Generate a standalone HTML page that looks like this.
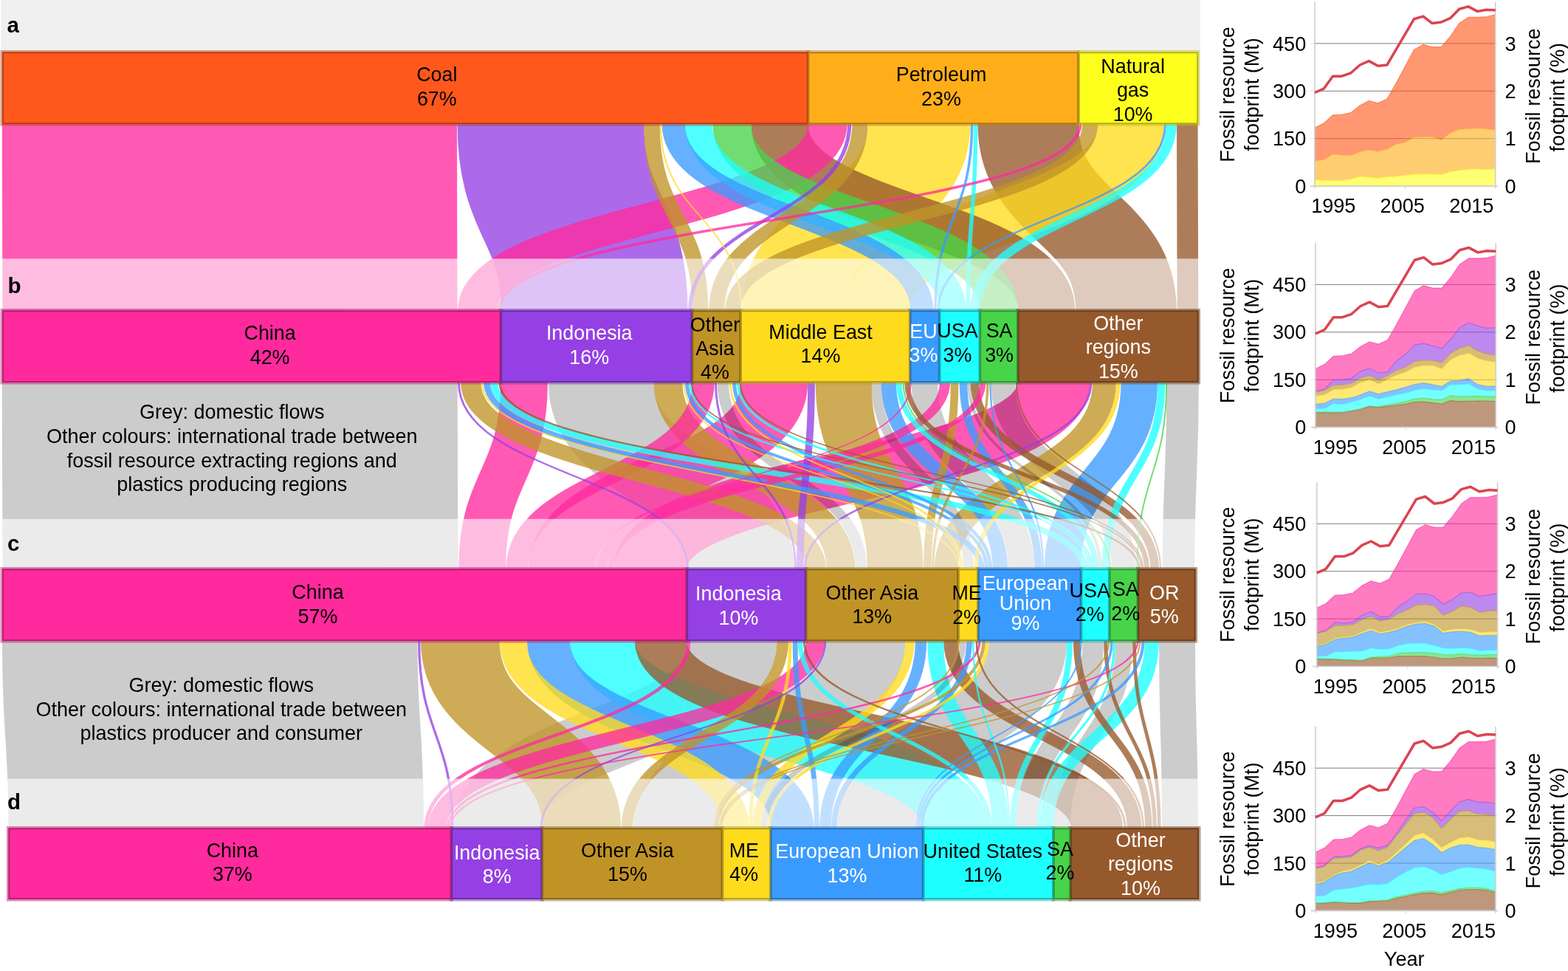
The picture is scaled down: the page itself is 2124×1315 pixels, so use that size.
<!DOCTYPE html>
<html lang="en"><head><meta charset="utf-8"><title>Fossil resource footprint of plastics: Sankey diagram</title>
<style>html,body{margin:0;padding:0;background:#fff}body{width:2124px;height:1315px;overflow:hidden}svg{display:block}text{font-family:"Liberation Sans",sans-serif}</style></head><body>
<svg width="2124" height="1315" viewBox="0 0 2124 1315" font-family="Liberation Sans, sans-serif" font-size="26.9" role="img" aria-label="Sankey diagram of the fossil resource footprint of plastics">
<rect width="2124" height="1315" fill="#fff"/>
<g id="flows-ab" fill="none" stroke-opacity="0.78" transform="scale(1.3,1)">
<path d="M239.12,167.5 C239.12,294.2 239.6,294.2 239.6,421" stroke="#ff2a9d" stroke-width="473.97"/>
<path d="M573.77,167.5 C573.77,294.2 619.29,294.2 619.29,421" stroke="#9540e4" stroke-width="194.55"/>
<path d="M957.69,167.5 C957.69,294.2 826.17,294.2 826.17,421" stroke="#ffdb1e" stroke-width="106.72"/>
<path d="M1071.27,167.5 C1071.27,294.2 1173.47,294.2 1173.47,421" stroke="#96592c" stroke-width="105.04"/>
<path d="M1178.65,167.5 C1178.65,294.2 913.75,294.2 913.75,421" stroke="#ffdb1e" stroke-width="69.28"/>
<path d="M812.23,167.5 C812.23,294.2 1090.56,294.2 1090.56,421" stroke="#96592c" stroke-width="59.43"/>
<path d="M862.27,167.5 C862.27,294.2 497.46,294.2 497.46,421" stroke="#ff2a9d" stroke-width="40.88"/>
<path d="M762.46,167.5 C762.46,294.2 1040.77,294.2 1040.77,421" stroke="#48d44a" stroke-width="39.92"/>
<path d="M727.88,167.5 C727.88,294.2 992.79,294.2 992.79,421" stroke="#1effff" stroke-width="28.21"/>
<path d="M701.73,167.5 C701.73,294.2 960.65,294.2 960.65,421" stroke="#3a9bff" stroke-width="23.95"/>
<path d="M1237.12,167.5 C1237.12,294.2 1237.61,294.2 1237.61,421" stroke="#96592c" stroke-width="22"/>
<path d="M679.12,167.5 C679.12,294.2 729.75,294.2 729.75,421" stroke="#c09326" stroke-width="16.59"/>
<path d="M896.08,167.5 C896.08,294.2 746.74,294.2 746.74,421" stroke="#c09326" stroke-width="16.2"/>
<path d="M1135.96,167.5 C1135.96,294.2 763.41,294.2 763.41,421" stroke="#c09326" stroke-width="15.96"/>
<path d="M1220.77,167.5 C1220.77,294.2 1015.85,294.2 1015.85,421" stroke="#1effff" stroke-width="10.53"/>
<path d="M1016.54,167.5 C1016.54,294.2 1008.64,294.2 1008.64,421" stroke="#1effff" stroke-width="4.21"/>
<path d="M885.12,167.5 C885.12,294.2 718.99,294.2 718.99,421" stroke="#9540e4" stroke-width="4.08"/>
<path d="M1125.58,167.5 C1125.58,294.2 519.91,294.2 519.91,421" stroke="#ff2a9d" stroke-width="3.46"/>
<path d="M1012.77,167.5 C1012.77,294.2 974.64,294.2 974.64,421" stroke="#3a9bff" stroke-width="2.67"/>
<path d="M1214.23,167.5 C1214.23,294.2 977.6,294.2 977.6,421" stroke="#3a9bff" stroke-width="2.36"/>
<path d="M688.23,167.5 C688.23,294.2 772.38,294.2 772.38,421" stroke="#ffdb1e" stroke-width="1.54"/>
</g>
<g id="flows-bc" fill="none" stroke-opacity="0.78" transform="scale(1.4,1)">
<path d="M222.25,517.5 C222.25,644.2 222.87,644.2 222.87,771" stroke="#000" stroke-opacity="0.2" stroke-width="440.74"/>
<path d="M581.64,517.5 C581.64,644.2 717.6,644.2 717.6,771" stroke="#000" stroke-opacity="0.2" stroke-width="102.02"/>
<path d="M1019.86,517.5 C1019.86,644.2 629.18,644.2 629.18,771" stroke="#ff2a9d" stroke-width="70.37"/>
<path d="M749.18,517.5 C749.18,644.2 543.65,644.2 543.65,771" stroke="#ff2a9d" stroke-width="64.86"/>
<path d="M816.11,517.5 C816.11,644.2 866.2,644.2 866.2,771" stroke="#c09326" stroke-width="54.06"/>
<path d="M507.18,517.5 C507.18,644.2 466.51,644.2 466.51,771" stroke="#ff2a9d" stroke-width="45.55"/>
<path d="M1102.29,517.5 C1102.29,644.2 1028.19,644.2 1028.19,771" stroke="#3a9bff" stroke-width="35.38"/>
<path d="M1144.39,517.5 C1144.39,644.2 1140.27,644.2 1140.27,771" stroke="#000" stroke-opacity="0.2" stroke-width="31.03"/>
<path d="M646.43,517.5 C646.43,644.2 813.58,644.2 813.58,771" stroke="#c09326" stroke-width="27.71"/>
<path d="M894.57,517.5 C894.57,644.2 987.9,644.2 987.9,771" stroke="#000" stroke-opacity="0.2" stroke-width="25.31"/>
<path d="M970.57,517.5 C970.57,644.2 1087.36,644.2 1087.36,771" stroke="#000" stroke-opacity="0.2" stroke-width="23.71"/>
<path d="M1068.54,517.5 C1068.54,644.2 915.6,644.2 915.6,771" stroke="#c09326" stroke-width="22.9"/>
<path d="M680.57,517.5 C680.57,644.2 500.25,644.2 500.25,771" stroke="#ff2a9d" stroke-width="21.45"/>
<path d="M455.46,517.5 C455.46,644.2 789.67,644.2 789.67,771" stroke="#c09326" stroke-width="19.46"/>
<path d="M859.86,517.5 C859.86,644.2 967.69,644.2 967.69,771" stroke="#3a9bff" stroke-width="14.52"/>
<path d="M699.5,517.5 C699.5,644.2 833.27,644.2 833.27,771" stroke="#000" stroke-opacity="0.2" stroke-width="11.06"/>
<path d="M914.29,517.5 C914.29,644.2 582.74,644.2 582.74,771" stroke="#ff2a9d" stroke-width="10.01"/>
<path d="M847.82,517.5 C847.82,644.2 937.04,644.2 937.04,771" stroke="#000" stroke-opacity="0.2" stroke-width="9.74"/>
<path d="M943.18,517.5 C943.18,644.2 1117.22,644.2 1117.22,771" stroke="#96592c" stroke-width="8.3"/>
<path d="M932.14,517.5 C932.14,644.2 1004.63,644.2 1004.63,771" stroke="#3a9bff" stroke-width="7.62"/>
<path d="M923.64,517.5 C923.64,644.2 897.4,644.2 897.4,771" stroke="#c09326" stroke-width="7.61"/>
<path d="M1123.68,517.5 C1123.68,644.2 1069.77,644.2 1069.77,771" stroke="#1effff" stroke-width="7.41"/>
<path d="M477.86,517.5 C477.86,644.2 1049.62,644.2 1049.62,771" stroke="#1effff" stroke-width="7.34"/>
<path d="M785.04,517.5 C785.04,644.2 774.17,644.2 774.17,771" stroke="#9540e4" stroke-width="6.93"/>
<path d="M470.96,517.5 C470.96,644.2 949.51,644.2 949.51,771" stroke="#3a9bff" stroke-width="6.26"/>
<path d="M950.89,517.5 C950.89,644.2 590.85,644.2 590.85,771" stroke="#ff2a9d" stroke-width="5.79"/>
<path d="M869.86,517.5 C869.86,644.2 1060.49,644.2 1060.49,771" stroke="#1effff" stroke-width="5.4"/>
<path d="M877.79,517.5 C877.79,644.2 1109.61,644.2 1109.61,771" stroke="#96592c" stroke-width="5.08"/>
<path d="M1082,517.5 C1082,644.2 944.14,644.2 944.14,771" stroke="#ffdb1e" stroke-width="4.18"/>
<path d="M664.64,517.5 C664.64,644.2 954.63,644.2 954.63,771" stroke="#3a9bff" stroke-width="3.6"/>
<path d="M710.36,517.5 C710.36,644.2 958.41,644.2 958.41,771" stroke="#3a9bff" stroke-width="3.6"/>
<path d="M937.57,517.5 C937.57,644.2 1064.64,644.2 1064.64,771" stroke="#000" stroke-opacity="0.2" stroke-width="3.18"/>
<path d="M713.93,517.5 C713.93,644.2 1056.53,644.2 1056.53,771" stroke="#1effff" stroke-width="2.77"/>
<path d="M955.57,517.5 C955.57,644.2 902.66,644.2 902.66,771" stroke="#c09326" stroke-width="2.44"/>
<path d="M483.39,517.5 C483.39,644.2 1102.37,644.2 1102.37,771" stroke="#96592c" stroke-width="2.17"/>
<path d="M1055.64,517.5 C1055.64,644.2 778.71,644.2 778.71,771" stroke="#9540e4" stroke-width="2.14"/>
<path d="M667.5,517.5 C667.5,644.2 1054.18,644.2 1054.18,771" stroke="#1effff" stroke-width="2.08"/>
<path d="M692.54,517.5 C692.54,644.2 769.66,644.2 769.66,771" stroke="#9540e4" stroke-width="2.07"/>
<path d="M443.82,517.5 C443.82,644.2 665.54,644.2 665.54,771" stroke="#9540e4" stroke-width="2.07"/>
<path d="M706.64,517.5 C706.64,644.2 931.11,644.2 931.11,771" stroke="#ffdb1e" stroke-width="1.88"/>
<path d="M466.21,517.5 C466.21,644.2 928.05,644.2 928.05,771" stroke="#ffdb1e" stroke-width="1.59"/>
<path d="M958.14,517.5 C958.14,644.2 1009.43,644.2 1009.43,771" stroke="#3a9bff" stroke-width="1.58"/>
<path d="M874,517.5 C874,644.2 1074.25,644.2 1074.25,771" stroke="#48d44a" stroke-width="1.45"/>
<path d="M881.25,517.5 C881.25,644.2 576.93,644.2 576.93,771" stroke="#ff2a9d" stroke-width="1.43"/>
<path d="M983.43,517.5 C983.43,644.2 1122.81,644.2 1122.81,771" stroke="#96592c" stroke-width="1.43"/>
<path d="M661.57,517.5 C661.57,644.2 929.51,644.2 929.51,771" stroke="#ffdb1e" stroke-width="1.43"/>
<path d="M1128.64,517.5 C1128.64,644.2 1100.26,644.2 1100.26,771" stroke="#48d44a" stroke-width="1.43"/>
<path d="M669.21,517.5 C669.21,644.2 1104.53,644.2 1104.53,771" stroke="#96592c" stroke-width="1.43"/>
<path d="M716.07,517.5 C716.07,644.2 1105.93,644.2 1105.93,771" stroke="#96592c" stroke-width="1.43"/>
</g>
<g id="flows-cd" fill="none" stroke-opacity="0.78" transform="scale(1.4,1)">
<path d="M203,867.5 C203,994.8 209.23,994.8 209.23,1122" stroke="#000" stroke-opacity="0.2" stroke-width="401.85"/>
<path d="M710.07,867.5 C710.07,994.8 480.79,994.8 480.79,1122" stroke="#000" stroke-opacity="0.2" stroke-width="83.43"/>
<path d="M837.61,867.5 C837.61,994.8 651.31,994.8 651.31,1122" stroke="#000" stroke-opacity="0.2" stroke-width="76.98"/>
<path d="M445.21,867.5 C445.21,994.8 562.8,994.8 562.8,1122" stroke="#c09326" stroke-width="76.19"/>
<path d="M994.64,867.5 C994.64,994.8 847.82,994.8 847.82,1122" stroke="#000" stroke-opacity="0.2" stroke-width="75.15"/>
<path d="M583.11,867.5 C583.11,994.8 924.33,994.8 924.33,1122" stroke="#1effff" stroke-width="62.65"/>
<path d="M639.18,867.5 C639.18,994.8 1061.45,994.8 1061.45,1122" stroke="#96592c" stroke-width="49.88"/>
<path d="M530.71,867.5 C530.71,994.8 766.63,994.8 766.63,1122" stroke="#3a9bff" stroke-width="41.67"/>
<path d="M1138.89,867.5 C1138.89,994.8 1141.81,994.8 1141.81,1122" stroke="#000" stroke-opacity="0.2" stroke-width="34.98"/>
<path d="M496.57,867.5 C496.57,994.8 711.73,994.8 711.73,1122" stroke="#ffdb1e" stroke-width="26.23"/>
<path d="M1057.64,867.5 C1057.64,994.8 993.09,994.8 993.09,1122" stroke="#000" stroke-opacity="0.2" stroke-width="20.34"/>
<path d="M789,867.5 C789,994.8 423.21,994.8 423.21,1122" stroke="#ff2a9d" stroke-width="18.01"/>
<path d="M1087.61,867.5 C1087.61,994.8 1027.39,994.8 1027.39,1122" stroke="#000" stroke-opacity="0.2" stroke-width="16.39"/>
<path d="M905.21,867.5 C905.21,994.8 967.81,994.8 967.81,1122" stroke="#1effff" stroke-width="15.68"/>
<path d="M919.96,867.5 C919.96,994.8 1097.57,994.8 1097.57,1122" stroke="#96592c" stroke-width="13.95"/>
<path d="M1114.54,867.5 C1114.54,994.8 1012.33,994.8 1012.33,1122" stroke="#1effff" stroke-width="13.77"/>
<path d="M757.32,867.5 C757.32,994.8 606.85,994.8 606.85,1122" stroke="#c09326" stroke-width="11.12"/>
<path d="M891.07,867.5 C891.07,994.8 798.48,994.8 798.48,1122" stroke="#3a9bff" stroke-width="11.06"/>
<path d="M880.39,867.5 C880.39,994.8 732.06,994.8 732.06,1122" stroke="#ffdb1e" stroke-width="8.72"/>
<path d="M1041.89,867.5 C1041.89,994.8 1111.31,994.8 1111.31,1122" stroke="#96592c" stroke-width="6.79"/>
<path d="M931.82,867.5 C931.82,994.8 739.2,994.8 739.2,1122" stroke="#000" stroke-opacity="0.2" stroke-width="5.93"/>
<path d="M1034.93,867.5 C1034.93,994.8 980.17,994.8 980.17,1122" stroke="#1effff" stroke-width="5.79"/>
<path d="M937.89,867.5 C937.89,994.8 807.04,994.8 807.04,1122" stroke="#3a9bff" stroke-width="5.53"/>
<path d="M769.36,867.5 C769.36,994.8 790.25,994.8 790.25,1122" stroke="#3a9bff" stroke-width="4.89"/>
<path d="M774.21,867.5 C774.21,994.8 957.68,994.8 957.68,1122" stroke="#1effff" stroke-width="4.8"/>
<path d="M666.43,867.5 C666.43,994.8 412.21,994.8 412.21,1122" stroke="#ff2a9d" stroke-width="3.86"/>
<path d="M1069.75,867.5 C1069.75,994.8 1117.32,994.8 1117.32,1122" stroke="#96592c" stroke-width="3.72"/>
<path d="M955.46,867.5 C955.46,994.8 743.84,994.8 743.84,1122" stroke="#ffdb1e" stroke-width="3.56"/>
<path d="M951.96,867.5 C951.96,994.8 693.6,994.8 693.6,1122" stroke="#c09326" stroke-width="3.37"/>
<path d="M1097.43,867.5 C1097.43,994.8 1121.58,994.8 1121.58,1122" stroke="#96592c" stroke-width="3.36"/>
<path d="M764.57,867.5 C764.57,994.8 726.17,994.8 726.17,1122" stroke="#ffdb1e" stroke-width="3.35"/>
<path d="M1106.07,867.5 C1106.07,994.8 891.73,994.8 891.73,1122" stroke="#3a9bff" stroke-width="3.02"/>
<path d="M947.89,867.5 C947.89,994.8 433.52,994.8 433.52,1122" stroke="#ff2a9d" stroke-width="2.5"/>
<path d="M1075.79,867.5 C1075.79,994.8 888.78,994.8 888.78,1122" stroke="#3a9bff" stroke-width="2.44"/>
<path d="M1078.21,867.5 C1078.21,994.8 1004.34,994.8 1004.34,1122" stroke="#1effff" stroke-width="2.4"/>
<path d="M405.46,867.5 C405.46,994.8 437.89,994.8 437.89,1122" stroke="#9540e4" stroke-width="2.36"/>
<path d="M778.21,867.5 C778.21,994.8 1088.69,994.8 1088.69,1122" stroke="#96592c" stroke-width="2.19"/>
<path d="M798.54,867.5 C798.54,994.8 523.46,994.8 523.46,1122" stroke="#9540e4" stroke-width="1.93"/>
<path d="M1100.93,867.5 C1100.93,994.8 435.76,994.8 435.76,1122" stroke="#ff2a9d" stroke-width="1.86"/>
<path d="M944.82,867.5 C944.82,994.8 1106.27,994.8 1106.27,1122" stroke="#96592c" stroke-width="1.83"/>
<path d="M941.54,867.5 C941.54,994.8 976.43,994.8 976.43,1122" stroke="#1effff" stroke-width="1.77"/>
<path d="M1073.21,867.5 C1073.21,994.8 696.3,994.8 696.3,1122" stroke="#c09326" stroke-width="1.58"/>
<path d="M1046.25,867.5 C1046.25,994.8 886.58,994.8 886.58,1122" stroke="#3a9bff" stroke-width="1.51"/>
<path d="M927.75,867.5 C927.75,994.8 690.94,994.8 690.94,1122" stroke="#c09326" stroke-width="1.51"/>
<path d="M1103.18,867.5 C1103.18,994.8 698.06,994.8 698.06,1122" stroke="#c09326" stroke-width="1.51"/>
</g>
<rect x="1.5" y="0" width="1624.5" height="68.5" fill="#f0f0f0"/>
<rect x="0" y="350.3" width="1627" height="70.2" fill="#fff" fill-opacity="0.6"/>
<rect x="0" y="702.8" width="1627" height="67.7" fill="#fff" fill-opacity="0.6"/>
<rect x="0" y="1054.7" width="1627" height="66.8" fill="#fff" fill-opacity="0.6"/>
<g id="bar-a">
<rect x="3" y="70.5" width="1091.6" height="97.5" fill="#ff581c" stroke="#b73f14" stroke-opacity="0.5" stroke-width="5"/>
<rect x="1094.6" y="70.5" width="366.4" height="97.5" fill="#ffae1a" stroke="#b77d12" stroke-opacity="0.5" stroke-width="5"/>
<rect x="1461" y="70.5" width="162" height="97.5" fill="#ffff1e" stroke="#b7b715" stroke-opacity="0.5" stroke-width="5"/>
<rect x="3.9" y="71.4" width="1089.8" height="95.7" fill="#ff581c" stroke="#b23d13" stroke-width="1.8"/>
<rect x="1095.5" y="71.4" width="364.6" height="95.7" fill="#ffae1a" stroke="#b27912" stroke-width="1.8"/>
<rect x="1461.9" y="71.4" width="160.2" height="95.7" fill="#ffff1e" stroke="#b2b215" stroke-width="1.8"/>
</g>
<g id="bar-b">
<rect x="3" y="420.5" width="675.3" height="97.5" fill="#ff2a9d" stroke="#b71e71" stroke-opacity="0.5" stroke-width="5"/>
<rect x="678.3" y="420.5" width="259.2" height="97.5" fill="#9540e4" stroke="#6b2ea4" stroke-opacity="0.5" stroke-width="5"/>
<rect x="937.5" y="420.5" width="65.7" height="97.5" fill="#c09326" stroke="#8a691b" stroke-opacity="0.5" stroke-width="5"/>
<rect x="1003.2" y="420.5" width="229.5" height="97.5" fill="#ffdb1e" stroke="#b79d15" stroke-opacity="0.5" stroke-width="5"/>
<rect x="1232.7" y="420.5" width="40" height="97.5" fill="#3a9bff" stroke="#296fb7" stroke-opacity="0.5" stroke-width="5"/>
<rect x="1272.7" y="420.5" width="54.6" height="97.5" fill="#1effff" stroke="#15b7b7" stroke-opacity="0.5" stroke-width="5"/>
<rect x="1327.3" y="420.5" width="51.4" height="97.5" fill="#48d44a" stroke="#339835" stroke-opacity="0.5" stroke-width="5"/>
<rect x="1378.7" y="420.5" width="244.8" height="97.5" fill="#96592c" stroke="#6c401f" stroke-opacity="0.5" stroke-width="5"/>
<rect x="3.9" y="421.4" width="673.5" height="95.7" fill="#ff2a9d" stroke="#b21d6d" stroke-width="1.8"/>
<rect x="679.2" y="421.4" width="257.4" height="95.7" fill="#9540e4" stroke="#682c9f" stroke-width="1.8"/>
<rect x="938.4" y="421.4" width="63.9" height="95.7" fill="#c09326" stroke="#86661a" stroke-width="1.8"/>
<rect x="1004.1" y="421.4" width="227.7" height="95.7" fill="#ffdb1e" stroke="#b29915" stroke-width="1.8"/>
<rect x="1233.6" y="421.4" width="38.2" height="95.7" fill="#3a9bff" stroke="#286cb2" stroke-width="1.8"/>
<rect x="1273.6" y="421.4" width="52.8" height="95.7" fill="#1effff" stroke="#15b2b2" stroke-width="1.8"/>
<rect x="1328.2" y="421.4" width="49.6" height="95.7" fill="#48d44a" stroke="#329433" stroke-width="1.8"/>
<rect x="1379.6" y="421.4" width="243" height="95.7" fill="#96592c" stroke="#693e1e" stroke-width="1.8"/>
</g>
<g id="bar-c">
<rect x="3" y="770.5" width="927.3" height="97.5" fill="#ff2a9d" stroke="#b71e71" stroke-opacity="0.5" stroke-width="5"/>
<rect x="930.3" y="770.5" width="161.4" height="97.5" fill="#9540e4" stroke="#6b2ea4" stroke-opacity="0.5" stroke-width="5"/>
<rect x="1091.7" y="770.5" width="206.4" height="97.5" fill="#c09326" stroke="#8a691b" stroke-opacity="0.5" stroke-width="5"/>
<rect x="1298.1" y="770.5" width="26.7" height="97.5" fill="#ffdb1e" stroke="#b79d15" stroke-opacity="0.5" stroke-width="5"/>
<rect x="1324.8" y="770.5" width="139.7" height="97.5" fill="#3a9bff" stroke="#296fb7" stroke-opacity="0.5" stroke-width="5"/>
<rect x="1464.5" y="770.5" width="38.2" height="97.5" fill="#1effff" stroke="#15b7b7" stroke-opacity="0.5" stroke-width="5"/>
<rect x="1502.7" y="770.5" width="38.6" height="97.5" fill="#48d44a" stroke="#339835" stroke-opacity="0.5" stroke-width="5"/>
<rect x="1541.3" y="770.5" width="78.2" height="97.5" fill="#96592c" stroke="#6c401f" stroke-opacity="0.5" stroke-width="5"/>
<rect x="3.9" y="771.4" width="925.5" height="95.7" fill="#ff2a9d" stroke="#b21d6d" stroke-width="1.8"/>
<rect x="931.2" y="771.4" width="159.6" height="95.7" fill="#9540e4" stroke="#682c9f" stroke-width="1.8"/>
<rect x="1092.6" y="771.4" width="204.6" height="95.7" fill="#c09326" stroke="#86661a" stroke-width="1.8"/>
<rect x="1299" y="771.4" width="24.9" height="95.7" fill="#ffdb1e" stroke="#b29915" stroke-width="1.8"/>
<rect x="1325.7" y="771.4" width="137.9" height="95.7" fill="#3a9bff" stroke="#286cb2" stroke-width="1.8"/>
<rect x="1465.4" y="771.4" width="36.4" height="95.7" fill="#1effff" stroke="#15b2b2" stroke-width="1.8"/>
<rect x="1503.6" y="771.4" width="36.8" height="95.7" fill="#48d44a" stroke="#329433" stroke-width="1.8"/>
<rect x="1542.2" y="771.4" width="76.4" height="95.7" fill="#96592c" stroke="#693e1e" stroke-width="1.8"/>
</g>
<g id="bar-d">
<rect x="11.5" y="1121.5" width="599.9" height="96.5" fill="#ff2a9d" stroke="#b71e71" stroke-opacity="0.5" stroke-width="5"/>
<rect x="611.4" y="1121.5" width="122.8" height="96.5" fill="#9540e4" stroke="#6b2ea4" stroke-opacity="0.5" stroke-width="5"/>
<rect x="734.2" y="1121.5" width="244.3" height="96.5" fill="#c09326" stroke="#8a691b" stroke-opacity="0.5" stroke-width="5"/>
<rect x="978.5" y="1121.5" width="65.3" height="96.5" fill="#ffdb1e" stroke="#b79d15" stroke-opacity="0.5" stroke-width="5"/>
<rect x="1043.8" y="1121.5" width="206.9" height="96.5" fill="#3a9bff" stroke="#296fb7" stroke-opacity="0.5" stroke-width="5"/>
<rect x="1250.7" y="1121.5" width="176.1" height="96.5" fill="#1effff" stroke="#15b7b7" stroke-opacity="0.5" stroke-width="5"/>
<rect x="1426.8" y="1121.5" width="23.1" height="96.5" fill="#48d44a" stroke="#339835" stroke-opacity="0.5" stroke-width="5"/>
<rect x="1449.9" y="1121.5" width="174.1" height="96.5" fill="#96592c" stroke="#6c401f" stroke-opacity="0.5" stroke-width="5"/>
<rect x="12.4" y="1122.4" width="598.1" height="94.7" fill="#ff2a9d" stroke="#b21d6d" stroke-width="1.8"/>
<rect x="612.3" y="1122.4" width="121" height="94.7" fill="#9540e4" stroke="#682c9f" stroke-width="1.8"/>
<rect x="735.1" y="1122.4" width="242.5" height="94.7" fill="#c09326" stroke="#86661a" stroke-width="1.8"/>
<rect x="979.4" y="1122.4" width="63.5" height="94.7" fill="#ffdb1e" stroke="#b29915" stroke-width="1.8"/>
<rect x="1044.7" y="1122.4" width="205.1" height="94.7" fill="#3a9bff" stroke="#286cb2" stroke-width="1.8"/>
<rect x="1251.6" y="1122.4" width="174.3" height="94.7" fill="#1effff" stroke="#15b2b2" stroke-width="1.8"/>
<rect x="1427.7" y="1122.4" width="21.3" height="94.7" fill="#48d44a" stroke="#329433" stroke-width="1.8"/>
<rect x="1450.8" y="1122.4" width="172.3" height="94.7" fill="#96592c" stroke="#693e1e" stroke-width="1.8"/>
</g>
<g id="labels" text-anchor="middle">
<text transform="translate(591.8,110.1) scale(1,1.04)" fill="#000">Coal</text>
<text transform="translate(591.8,142.8) scale(1,1.04)" fill="#000">67%</text>
<text transform="translate(1275,110.2) scale(1,1.04)" fill="#000">Petroleum</text>
<text transform="translate(1275,142.7) scale(1,1.04)" fill="#000">23%</text>
<text transform="translate(1534.6,99) scale(1,1.04)" fill="#000">Natural</text>
<text transform="translate(1534.6,131) scale(1,1.04)" fill="#000">gas</text>
<text transform="translate(1534.6,163.5) scale(1,1.04)" fill="#000">10%</text>
<text transform="translate(365.6,459.9) scale(1,1.04)" fill="#000">China</text>
<text transform="translate(365.6,492.8) scale(1,1.04)" fill="#000">42%</text>
<text transform="translate(798.2,460.2) scale(1,1.04)" fill="#fff">Indonesia</text>
<text transform="translate(798.2,492.8) scale(1,1.04)" fill="#fff">16%</text>
<text transform="translate(968.5,448.6) scale(1,1.04)" fill="#000">Other</text>
<text transform="translate(968.5,481) scale(1,1.04)" fill="#000">Asia</text>
<text transform="translate(968.5,512.9) scale(1,1.04)" fill="#000">4%</text>
<text transform="translate(1111.5,458.8) scale(1,1.04)" fill="#000">Middle East</text>
<text transform="translate(1111.5,491) scale(1,1.04)" fill="#000">14%</text>
<text transform="translate(1251,457.6) scale(1,1.04)" fill="#fff">EU</text>
<text transform="translate(1251,490.1) scale(1,1.04)" fill="#fff">3%</text>
<text transform="translate(1297,457.2) scale(1,1.04)" fill="#000">USA</text>
<text transform="translate(1297,489.7) scale(1,1.04)" fill="#000">3%</text>
<text transform="translate(1353.6,457.2) scale(1,1.04)" fill="#000">SA</text>
<text transform="translate(1353.6,489.7) scale(1,1.04)" fill="#000">3%</text>
<text transform="translate(1514.8,447.3) scale(1,1.04)" fill="#fff">Other</text>
<text transform="translate(1514.8,479.3) scale(1,1.04)" fill="#fff">regions</text>
<text transform="translate(1514.8,511.8) scale(1,1.04)" fill="#fff">15%</text>
<text transform="translate(430.5,810.5) scale(1,1.04)" fill="#000">China</text>
<text transform="translate(430.5,843.5) scale(1,1.04)" fill="#000">57%</text>
<text transform="translate(1000.4,813) scale(1,1.04)" fill="#fff">Indonesia</text>
<text transform="translate(1000.4,845.6) scale(1,1.04)" fill="#fff">10%</text>
<text transform="translate(1181.3,811.5) scale(1,1.04)" fill="#000">Other Asia</text>
<text transform="translate(1181.3,844) scale(1,1.04)" fill="#000">13%</text>
<text transform="translate(1309.6,812) scale(1,1.04)" fill="#000">ME</text>
<text transform="translate(1309.6,844.9) scale(1,1.04)" fill="#000">2%</text>
<text transform="translate(1389,798.6) scale(1,1.04)" fill="#fff">European</text>
<text transform="translate(1389,825.5) scale(1,1.04)" fill="#fff">Union</text>
<text transform="translate(1389,852.7) scale(1,1.04)" fill="#fff">9%</text>
<text transform="translate(1476.2,809.3) scale(1,1.04)" fill="#000">USA</text>
<text transform="translate(1476.2,841.4) scale(1,1.04)" fill="#000">2%</text>
<text transform="translate(1524.8,807.1) scale(1,1.04)" fill="#000">SA</text>
<text transform="translate(1524.8,839.5) scale(1,1.04)" fill="#000">2%</text>
<text transform="translate(1577.2,811.8) scale(1,1.04)" fill="#fff">OR</text>
<text transform="translate(1577.2,844.2) scale(1,1.04)" fill="#fff">5%</text>
<text transform="translate(314.8,1160.9) scale(1,1.04)" fill="#000">China</text>
<text transform="translate(314.8,1193.4) scale(1,1.04)" fill="#000">37%</text>
<text transform="translate(673.2,1163.7) scale(1,1.04)" fill="#fff">Indonesia</text>
<text transform="translate(673.2,1196.2) scale(1,1.04)" fill="#fff">8%</text>
<text transform="translate(849.9,1161.3) scale(1,1.04)" fill="#000">Other Asia</text>
<text transform="translate(849.9,1193.4) scale(1,1.04)" fill="#000">15%</text>
<text transform="translate(1007.8,1160.9) scale(1,1.04)" fill="#000">ME</text>
<text transform="translate(1007.8,1193.4) scale(1,1.04)" fill="#000">4%</text>
<text transform="translate(1147.4,1162) scale(1,1.04)" fill="#fff">European Union</text>
<text transform="translate(1147.4,1194.5) scale(1,1.04)" fill="#fff">13%</text>
<text transform="translate(1331.3,1162) scale(1,1.04)" fill="#000">United States</text>
<text transform="translate(1331.3,1194) scale(1,1.04)" fill="#000">11%</text>
<text transform="translate(1436,1158.7) scale(1,1.04)" fill="#000">SA</text>
<text transform="translate(1436,1191.2) scale(1,1.04)" fill="#000">2%</text>
<text transform="translate(1545,1146.5) scale(1,1.04)" fill="#fff">Other</text>
<text transform="translate(1545,1178.5) scale(1,1.04)" fill="#fff">regions</text>
<text transform="translate(1545,1211.6) scale(1,1.04)" fill="#fff">10%</text>
</g>
<g id="notes" text-anchor="middle" font-size="27">
<text transform="translate(314.2,567) scale(1,1.04)">Grey: domestic flows</text>
<text transform="translate(314.2,600.3) scale(1,1.04)">Other colours: international trade between</text>
<text transform="translate(314.2,632.8) scale(1,1.04)">fossil resource extracting regions and</text>
<text transform="translate(314.2,664.6) scale(1,1.04)">plastics producing regions</text>
<text transform="translate(299.8,936.9) scale(1,1.04)">Grey: domestic flows</text>
<text transform="translate(299.8,969.6) scale(1,1.04)">Other colours: international trade between</text>
<text transform="translate(299.8,1002) scale(1,1.04)">plastics producer and consumer</text>
</g>
<g id="panel-letters" font-weight="bold" font-size="29.5">
<text x="9.5" y="44.3">a</text>
<text x="10.5" y="397.1">b</text>
<text x="10" y="746">c</text>
<text x="10" y="1095.8">d</text>
</g>
<g id="chart-1" font-size="27.1">
<line x1="1780.9" y1="187.7" x2="2025.7" y2="187.7" stroke="#7d7d7d" stroke-width="1"/>
<line x1="1774.9" y1="187.7" x2="1780.9" y2="187.7" stroke="#e2e2e2" stroke-width="1"/>
<line x1="2025.7" y1="187.7" x2="2028.7" y2="187.7" stroke="#e2e2e2" stroke-width="1"/>
<line x1="1780.9" y1="123.3" x2="2025.7" y2="123.3" stroke="#7d7d7d" stroke-width="1"/>
<line x1="1774.9" y1="123.3" x2="1780.9" y2="123.3" stroke="#e2e2e2" stroke-width="1"/>
<line x1="2025.7" y1="123.3" x2="2028.7" y2="123.3" stroke="#e2e2e2" stroke-width="1"/>
<line x1="1780.9" y1="58.9" x2="2025.7" y2="58.9" stroke="#7d7d7d" stroke-width="1"/>
<line x1="1774.9" y1="58.9" x2="1780.9" y2="58.9" stroke="#e2e2e2" stroke-width="1"/>
<line x1="2025.7" y1="58.9" x2="2028.7" y2="58.9" stroke="#e2e2e2" stroke-width="1"/>
<path d="M1780.9,243.6 L1793.1,244.4 L1805.4,244.8 L1817.6,244.8 L1829.9,242.8 L1842.1,239.2 L1854.3,240.2 L1866.6,241.8 L1878.8,239.6 L1891.1,239.2 L1903.3,237.7 L1915.5,236.3 L1927.8,235.9 L1940,236.1 L1952.3,236.7 L1964.5,232.9 L1976.7,230.9 L1989,229.4 L2001.2,229 L2013.5,229.8 L2025.7,228.8 L2025.7,252.1 L2013.5,252.1 L2001.2,252.1 L1989,252.1 L1976.7,252.1 L1964.5,252.1 L1952.3,252.1 L1940,252.1 L1927.8,252.1 L1915.5,252.1 L1903.3,252.1 L1891.1,252.1 L1878.8,252.1 L1866.6,252.1 L1854.3,252.1 L1842.1,252.1 L1829.9,252.1 L1817.6,252.1 L1805.4,252.1 L1793.1,252.1 L1780.9,252.1 Z" fill="#ffff1e" fill-opacity="0.62"/>
<path d="M1780.9,217.9 L1793.1,216.5 L1805.4,208.8 L1817.6,210 L1829.9,210.4 L1842.1,205.6 L1854.3,203.1 L1866.6,205.2 L1878.8,202.1 L1891.1,195.3 L1903.3,192.8 L1915.5,185.8 L1927.8,185.5 L1940,185.5 L1952.3,189.4 L1964.5,180.3 L1976.7,175.2 L1989,174.6 L2001.2,173.6 L2013.5,174.6 L2025.7,176 L2025.7,228.8 L2013.5,229.8 L2001.2,229 L1989,229.4 L1976.7,230.9 L1964.5,232.9 L1952.3,236.7 L1940,236.1 L1927.8,235.9 L1915.5,236.3 L1903.3,237.7 L1891.1,239.2 L1878.8,239.6 L1866.6,241.8 L1854.3,240.2 L1842.1,239.2 L1829.9,242.8 L1817.6,244.8 L1805.4,244.8 L1793.1,244.4 L1780.9,243.6 Z" fill="#ffae1a" fill-opacity="0.62"/>
<path d="M1780.9,173 L1793.1,167.1 L1805.4,155.8 L1817.6,155.2 L1829.9,152.6 L1842.1,142.7 L1854.3,136.4 L1866.6,139.6 L1878.8,134 L1891.1,112.7 L1903.3,89.9 L1915.5,67.2 L1927.8,60.3 L1940,63.6 L1952.3,63.6 L1964.5,49.4 L1976.7,31.6 L1989,23.3 L2001.2,23.3 L2013.5,22.7 L2025.7,19.7 L2025.7,176 L2013.5,174.6 L2001.2,173.6 L1989,174.6 L1976.7,175.2 L1964.5,180.3 L1952.3,189.4 L1940,185.5 L1927.8,185.5 L1915.5,185.8 L1903.3,192.8 L1891.1,195.3 L1878.8,202.1 L1866.6,205.2 L1854.3,203.1 L1842.1,205.6 L1829.9,210.4 L1817.6,210 L1805.4,208.8 L1793.1,216.5 L1780.9,217.9 Z" fill="#ff581c" fill-opacity="0.62"/>
<path d="M1780.9,243.6 L1793.1,244.4 L1805.4,244.8 L1817.6,244.8 L1829.9,242.8 L1842.1,239.2 L1854.3,240.2 L1866.6,241.8 L1878.8,239.6 L1891.1,239.2 L1903.3,237.7 L1915.5,236.3 L1927.8,235.9 L1940,236.1 L1952.3,236.7 L1964.5,232.9 L1976.7,230.9 L1989,229.4 L2001.2,229 L2013.5,229.8 L2025.7,228.8" fill="none" stroke="#ffff1e" stroke-opacity="0.55" stroke-width="1.2" stroke-linejoin="round"/>
<path d="M1780.9,217.9 L1793.1,216.5 L1805.4,208.8 L1817.6,210 L1829.9,210.4 L1842.1,205.6 L1854.3,203.1 L1866.6,205.2 L1878.8,202.1 L1891.1,195.3 L1903.3,192.8 L1915.5,185.8 L1927.8,185.5 L1940,185.5 L1952.3,189.4 L1964.5,180.3 L1976.7,175.2 L1989,174.6 L2001.2,173.6 L2013.5,174.6 L2025.7,176" fill="none" stroke="#ffae1a" stroke-opacity="0.55" stroke-width="1.2" stroke-linejoin="round"/>
<path d="M1780.9,173 L1793.1,167.1 L1805.4,155.8 L1817.6,155.2 L1829.9,152.6 L1842.1,142.7 L1854.3,136.4 L1866.6,139.6 L1878.8,134 L1891.1,112.7 L1903.3,89.9 L1915.5,67.2 L1927.8,60.3 L1940,63.6 L1952.3,63.6 L1964.5,49.4 L1976.7,31.6 L1989,23.3 L2001.2,23.3 L2013.5,22.7 L2025.7,19.7" fill="none" stroke="#ff581c" stroke-opacity="0.55" stroke-width="1.2" stroke-linejoin="round"/>
<path d="M1780.9,2.6 V255.1 M2025.7,2.6 V255.1 M1774.9,252.1 H2028.7" fill="none" stroke="#cfcfcf" stroke-width="1.6"/>
<line x1="1903.3" y1="252.1" x2="1903.3" y2="256.1" stroke="#dcdcdc" stroke-width="1.2"/>
<path d="M1780.9,125.5 L1793.1,120.2 L1805.4,103.2 L1817.6,103.2 L1829.9,98.8 L1842.1,88 L1854.3,82.6 L1866.6,89.3 L1878.8,88 L1891.1,67.2 L1903.3,46.4 L1915.5,25.7 L1927.8,22.1 L1940,31.6 L1952.3,30 L1964.5,24.7 L1976.7,12.2 L1989,8.9 L2001.2,15.4 L2013.5,13.2 L2025.7,13.8" fill="none" stroke="#dc4351" stroke-width="3.5" stroke-linejoin="round" stroke-linecap="butt"/>
<text transform="translate(1769.2,261.7) scale(1,1.04)" text-anchor="end">0</text>
<text transform="translate(2038.6,261.7) scale(1,1.04)">0</text>
<text transform="translate(1769.2,197.3) scale(1,1.04)" text-anchor="end">150</text>
<text transform="translate(2038.6,197.3) scale(1,1.04)">1</text>
<text transform="translate(1769.2,132.9) scale(1,1.04)" text-anchor="end">300</text>
<text transform="translate(2038.6,132.9) scale(1,1.04)">2</text>
<text transform="translate(1769.2,68.5) scale(1,1.04)" text-anchor="end">450</text>
<text transform="translate(2038.6,68.5) scale(1,1.04)">3</text>
<text transform="translate(1806.3,288.2) scale(1,1.04)" text-anchor="middle">1995</text>
<text transform="translate(1899.7,288.2) scale(1,1.04)" text-anchor="middle">2005</text>
<text transform="translate(1993.3,288.2) scale(1,1.04)" text-anchor="middle">2015</text>
<text transform="translate(1672.2,127.9) rotate(-90) scale(1,1.04)" text-anchor="middle">Fossil resource</text>
<text transform="translate(1704.6,127.9) rotate(-90) scale(1,1.04)" text-anchor="middle">footprint (Mt)</text>
<text transform="translate(2085.9,130.3) rotate(-90) scale(1,1.04)" text-anchor="middle">Fossil resource</text>
<text transform="translate(2118.6,131.7) rotate(-90) scale(1,1.04)" text-anchor="middle">footprint (%)</text>
</g>
<g id="chart-2" font-size="27.1">
<line x1="1781.9" y1="514.2" x2="2026.2" y2="514.2" stroke="#7d7d7d" stroke-width="1"/>
<line x1="1775.9" y1="514.2" x2="1781.9" y2="514.2" stroke="#e2e2e2" stroke-width="1"/>
<line x1="2026.2" y1="514.2" x2="2029.2" y2="514.2" stroke="#e2e2e2" stroke-width="1"/>
<line x1="1781.9" y1="449.8" x2="2026.2" y2="449.8" stroke="#7d7d7d" stroke-width="1"/>
<line x1="1775.9" y1="449.8" x2="1781.9" y2="449.8" stroke="#e2e2e2" stroke-width="1"/>
<line x1="2026.2" y1="449.8" x2="2029.2" y2="449.8" stroke="#e2e2e2" stroke-width="1"/>
<line x1="1781.9" y1="385.4" x2="2026.2" y2="385.4" stroke="#7d7d7d" stroke-width="1"/>
<line x1="1775.9" y1="385.4" x2="1781.9" y2="385.4" stroke="#e2e2e2" stroke-width="1"/>
<line x1="2026.2" y1="385.4" x2="2029.2" y2="385.4" stroke="#e2e2e2" stroke-width="1"/>
<path d="M1781.9,558.8 L1794.1,558.8 L1806.3,559 L1818.5,559 L1830.8,556.8 L1843,554.5 L1855.2,550.5 L1867.4,551.9 L1879.6,550.1 L1891.8,548.9 L1904.1,547 L1916.3,544.6 L1928.5,544.2 L1940.7,545.6 L1952.9,547 L1965.1,542.6 L1977.3,543.6 L1989.6,543.4 L2001.8,543 L2014,543.2 L2026.2,543.6 L2026.2,578.6 L2014,578.6 L2001.8,578.6 L1989.6,578.6 L1977.3,578.6 L1965.1,578.6 L1952.9,578.6 L1940.7,578.6 L1928.5,578.6 L1916.3,578.6 L1904.1,578.6 L1891.8,578.6 L1879.6,578.6 L1867.4,578.6 L1855.2,578.6 L1843,578.6 L1830.8,578.6 L1818.5,578.6 L1806.3,578.6 L1794.1,578.6 L1781.9,578.6 Z" fill="#96592c" fill-opacity="0.62"/>
<path d="M1781.9,558 L1794.1,558 L1806.3,558 L1818.5,558 L1830.8,556.1 L1843,553.5 L1855.2,549.5 L1867.4,550.5 L1879.6,548.1 L1891.8,546.2 L1904.1,543.6 L1916.3,540.2 L1928.5,539.2 L1940.7,540.6 L1952.9,541 L1965.1,535.7 L1977.3,537.1 L1989.6,536.7 L2001.8,536.3 L2014,536.7 L2026.2,537.1 L2026.2,543.6 L2014,543.2 L2001.8,543 L1989.6,543.4 L1977.3,543.6 L1965.1,542.6 L1952.9,547 L1940.7,545.6 L1928.5,544.2 L1916.3,544.6 L1904.1,547 L1891.8,548.9 L1879.6,550.1 L1867.4,551.9 L1855.2,550.5 L1843,554.5 L1830.8,556.8 L1818.5,559 L1806.3,559 L1794.1,558.8 L1781.9,558.8 Z" fill="#48d44a" fill-opacity="0.62"/>
<path d="M1781.9,553.5 L1794.1,553.5 L1806.3,546.6 L1818.5,547.6 L1830.8,544.6 L1843,541 L1855.2,536.3 L1867.4,540.2 L1879.6,537.7 L1891.8,534.7 L1904.1,532.3 L1916.3,528.4 L1928.5,526.4 L1940.7,527.8 L1952.9,528.8 L1965.1,520.9 L1977.3,520.9 L1989.6,519.9 L2001.8,526.8 L2014,529.2 L2026.2,528.8 L2026.2,537.1 L2014,536.7 L2001.8,536.3 L1989.6,536.7 L1977.3,537.1 L1965.1,535.7 L1952.9,541 L1940.7,540.6 L1928.5,539.2 L1916.3,540.2 L1904.1,543.6 L1891.8,546.2 L1879.6,548.1 L1867.4,550.5 L1855.2,549.5 L1843,553.5 L1830.8,556.1 L1818.5,558 L1806.3,558 L1794.1,558 L1781.9,558 Z" fill="#1effff" fill-opacity="0.62"/>
<path d="M1781.9,547.6 L1794.1,546.2 L1806.3,540.2 L1818.5,540.6 L1830.8,538.7 L1843,534.7 L1855.2,529.8 L1867.4,533.7 L1879.6,530.7 L1891.8,527.8 L1904.1,524.4 L1916.3,520.5 L1928.5,518.5 L1940.7,520.9 L1952.9,523.4 L1965.1,515.9 L1977.3,515.3 L1989.6,512.9 L2001.8,520.9 L2014,523.4 L2026.2,522.8 L2026.2,528.8 L2014,529.2 L2001.8,526.8 L1989.6,519.9 L1977.3,520.9 L1965.1,520.9 L1952.9,528.8 L1940.7,527.8 L1928.5,526.4 L1916.3,528.4 L1904.1,532.3 L1891.8,534.7 L1879.6,537.7 L1867.4,540.2 L1855.2,536.3 L1843,541 L1830.8,544.6 L1818.5,547.6 L1806.3,546.6 L1794.1,553.5 L1781.9,553.5 Z" fill="#3a9bff" fill-opacity="0.62"/>
<path d="M1781.9,536.7 L1794.1,534.7 L1806.3,527.8 L1818.5,527.2 L1830.8,524.8 L1843,517.9 L1855.2,514.5 L1867.4,519.9 L1879.6,513.9 L1891.8,508 L1904.1,504 L1916.3,497.5 L1928.5,495.1 L1940.7,495.1 L1952.9,499.5 L1965.1,487.2 L1977.3,481.3 L1989.6,478.3 L2001.8,485.3 L2014,488.8 L2026.2,490.2 L2026.2,522.8 L2014,523.4 L2001.8,520.9 L1989.6,512.9 L1977.3,515.3 L1965.1,515.9 L1952.9,523.4 L1940.7,520.9 L1928.5,518.5 L1916.3,520.5 L1904.1,524.4 L1891.8,527.8 L1879.6,530.7 L1867.4,533.7 L1855.2,529.8 L1843,534.7 L1830.8,538.7 L1818.5,540.6 L1806.3,540.2 L1794.1,546.2 L1781.9,547.6 Z" fill="#ffdb1e" fill-opacity="0.62"/>
<path d="M1781.9,531.1 L1794.1,528.8 L1806.3,521.8 L1818.5,521.2 L1830.8,518.9 L1843,512 L1855.2,508.6 L1867.4,513.9 L1879.6,508.6 L1891.8,501.5 L1904.1,497.1 L1916.3,489.2 L1928.5,487.6 L1940.7,488.2 L1952.9,491.2 L1965.1,478.3 L1977.3,471.4 L1989.6,467.9 L2001.8,475.4 L2014,479.3 L2026.2,481.3 L2026.2,490.2 L2014,488.8 L2001.8,485.3 L1989.6,478.3 L1977.3,481.3 L1965.1,487.2 L1952.9,499.5 L1940.7,495.1 L1928.5,495.1 L1916.3,497.5 L1904.1,504 L1891.8,508 L1879.6,513.9 L1867.4,519.9 L1855.2,514.5 L1843,517.9 L1830.8,524.8 L1818.5,527.2 L1806.3,527.8 L1794.1,534.7 L1781.9,536.7 Z" fill="#c09326" fill-opacity="0.62"/>
<path d="M1781.9,529.8 L1794.1,527.2 L1806.3,514.9 L1818.5,514.5 L1830.8,512 L1843,503.1 L1855.2,498.7 L1867.4,505 L1879.6,503.6 L1891.8,488.8 L1904.1,479.3 L1916.3,467.1 L1928.5,465.1 L1940.7,468.4 L1952.9,471.8 L1965.1,459.5 L1977.3,443.7 L1989.6,437.4 L2001.8,441.4 L2014,444.7 L2026.2,443.7 L2026.2,481.3 L2014,479.3 L2001.8,475.4 L1989.6,467.9 L1977.3,471.4 L1965.1,478.3 L1952.9,491.2 L1940.7,488.2 L1928.5,487.6 L1916.3,489.2 L1904.1,497.1 L1891.8,501.5 L1879.6,508.6 L1867.4,513.9 L1855.2,508.6 L1843,512 L1830.8,518.9 L1818.5,521.2 L1806.3,521.8 L1794.1,528.8 L1781.9,531.1 Z" fill="#9540e4" fill-opacity="0.62"/>
<path d="M1781.9,499.5 L1794.1,493.6 L1806.3,482.3 L1818.5,481.7 L1830.8,479.1 L1843,469.2 L1855.2,462.9 L1867.4,466.1 L1879.6,460.5 L1891.8,439.2 L1904.1,416.4 L1916.3,393.7 L1928.5,386.8 L1940.7,390.1 L1952.9,390.1 L1965.1,375.9 L1977.3,358.1 L1989.6,349.8 L2001.8,349.8 L2014,349.2 L2026.2,346.2 L2026.2,443.7 L2014,444.7 L2001.8,441.4 L1989.6,437.4 L1977.3,443.7 L1965.1,459.5 L1952.9,471.8 L1940.7,468.4 L1928.5,465.1 L1916.3,467.1 L1904.1,479.3 L1891.8,488.8 L1879.6,503.6 L1867.4,505 L1855.2,498.7 L1843,503.1 L1830.8,512 L1818.5,514.5 L1806.3,514.9 L1794.1,527.2 L1781.9,529.8 Z" fill="#ff2a9d" fill-opacity="0.62"/>
<path d="M1781.9,558.8 L1794.1,558.8 L1806.3,559 L1818.5,559 L1830.8,556.8 L1843,554.5 L1855.2,550.5 L1867.4,551.9 L1879.6,550.1 L1891.8,548.9 L1904.1,547 L1916.3,544.6 L1928.5,544.2 L1940.7,545.6 L1952.9,547 L1965.1,542.6 L1977.3,543.6 L1989.6,543.4 L2001.8,543 L2014,543.2 L2026.2,543.6" fill="none" stroke="#96592c" stroke-opacity="0.55" stroke-width="1.2" stroke-linejoin="round"/>
<path d="M1781.9,558 L1794.1,558 L1806.3,558 L1818.5,558 L1830.8,556.1 L1843,553.5 L1855.2,549.5 L1867.4,550.5 L1879.6,548.1 L1891.8,546.2 L1904.1,543.6 L1916.3,540.2 L1928.5,539.2 L1940.7,540.6 L1952.9,541 L1965.1,535.7 L1977.3,537.1 L1989.6,536.7 L2001.8,536.3 L2014,536.7 L2026.2,537.1" fill="none" stroke="#48d44a" stroke-opacity="0.55" stroke-width="1.2" stroke-linejoin="round"/>
<path d="M1781.9,553.5 L1794.1,553.5 L1806.3,546.6 L1818.5,547.6 L1830.8,544.6 L1843,541 L1855.2,536.3 L1867.4,540.2 L1879.6,537.7 L1891.8,534.7 L1904.1,532.3 L1916.3,528.4 L1928.5,526.4 L1940.7,527.8 L1952.9,528.8 L1965.1,520.9 L1977.3,520.9 L1989.6,519.9 L2001.8,526.8 L2014,529.2 L2026.2,528.8" fill="none" stroke="#1effff" stroke-opacity="0.55" stroke-width="1.2" stroke-linejoin="round"/>
<path d="M1781.9,547.6 L1794.1,546.2 L1806.3,540.2 L1818.5,540.6 L1830.8,538.7 L1843,534.7 L1855.2,529.8 L1867.4,533.7 L1879.6,530.7 L1891.8,527.8 L1904.1,524.4 L1916.3,520.5 L1928.5,518.5 L1940.7,520.9 L1952.9,523.4 L1965.1,515.9 L1977.3,515.3 L1989.6,512.9 L2001.8,520.9 L2014,523.4 L2026.2,522.8" fill="none" stroke="#3a9bff" stroke-opacity="0.55" stroke-width="1.2" stroke-linejoin="round"/>
<path d="M1781.9,536.7 L1794.1,534.7 L1806.3,527.8 L1818.5,527.2 L1830.8,524.8 L1843,517.9 L1855.2,514.5 L1867.4,519.9 L1879.6,513.9 L1891.8,508 L1904.1,504 L1916.3,497.5 L1928.5,495.1 L1940.7,495.1 L1952.9,499.5 L1965.1,487.2 L1977.3,481.3 L1989.6,478.3 L2001.8,485.3 L2014,488.8 L2026.2,490.2" fill="none" stroke="#ffdb1e" stroke-opacity="0.55" stroke-width="1.2" stroke-linejoin="round"/>
<path d="M1781.9,531.1 L1794.1,528.8 L1806.3,521.8 L1818.5,521.2 L1830.8,518.9 L1843,512 L1855.2,508.6 L1867.4,513.9 L1879.6,508.6 L1891.8,501.5 L1904.1,497.1 L1916.3,489.2 L1928.5,487.6 L1940.7,488.2 L1952.9,491.2 L1965.1,478.3 L1977.3,471.4 L1989.6,467.9 L2001.8,475.4 L2014,479.3 L2026.2,481.3" fill="none" stroke="#c09326" stroke-opacity="0.55" stroke-width="1.2" stroke-linejoin="round"/>
<path d="M1781.9,529.8 L1794.1,527.2 L1806.3,514.9 L1818.5,514.5 L1830.8,512 L1843,503.1 L1855.2,498.7 L1867.4,505 L1879.6,503.6 L1891.8,488.8 L1904.1,479.3 L1916.3,467.1 L1928.5,465.1 L1940.7,468.4 L1952.9,471.8 L1965.1,459.5 L1977.3,443.7 L1989.6,437.4 L2001.8,441.4 L2014,444.7 L2026.2,443.7" fill="none" stroke="#9540e4" stroke-opacity="0.55" stroke-width="1.2" stroke-linejoin="round"/>
<path d="M1781.9,499.5 L1794.1,493.6 L1806.3,482.3 L1818.5,481.7 L1830.8,479.1 L1843,469.2 L1855.2,462.9 L1867.4,466.1 L1879.6,460.5 L1891.8,439.2 L1904.1,416.4 L1916.3,393.7 L1928.5,386.8 L1940.7,390.1 L1952.9,390.1 L1965.1,375.9 L1977.3,358.1 L1989.6,349.8 L2001.8,349.8 L2014,349.2 L2026.2,346.2" fill="none" stroke="#ff2a9d" stroke-opacity="0.55" stroke-width="1.2" stroke-linejoin="round"/>
<path d="M1781.9,329.1 V581.6 M2026.2,329.1 V581.6 M1775.9,578.6 H2029.2" fill="none" stroke="#cfcfcf" stroke-width="1.6"/>
<line x1="1904.1" y1="578.6" x2="1904.1" y2="582.6" stroke="#dcdcdc" stroke-width="1.2"/>
<path d="M1781.9,452 L1794.1,446.7 L1806.3,429.7 L1818.5,429.7 L1830.8,425.3 L1843,414.5 L1855.2,409.1 L1867.4,415.8 L1879.6,414.5 L1891.8,393.7 L1904.1,372.9 L1916.3,352.2 L1928.5,348.6 L1940.7,358.1 L1952.9,356.5 L1965.1,351.2 L1977.3,338.7 L1989.6,335.4 L2001.8,341.9 L2014,339.7 L2026.2,340.3" fill="none" stroke="#dc4351" stroke-width="3.5" stroke-linejoin="round" stroke-linecap="butt"/>
<text transform="translate(1769.2,588.2) scale(1,1.04)" text-anchor="end">0</text>
<text transform="translate(2038.6,588.2) scale(1,1.04)">0</text>
<text transform="translate(1769.2,523.8) scale(1,1.04)" text-anchor="end">150</text>
<text transform="translate(2038.6,523.8) scale(1,1.04)">1</text>
<text transform="translate(1769.2,459.4) scale(1,1.04)" text-anchor="end">300</text>
<text transform="translate(2038.6,459.4) scale(1,1.04)">2</text>
<text transform="translate(1769.2,395) scale(1,1.04)" text-anchor="end">450</text>
<text transform="translate(2038.6,395) scale(1,1.04)">3</text>
<text transform="translate(1808.9,614.7) scale(1,1.04)" text-anchor="middle">1995</text>
<text transform="translate(1902.3,614.7) scale(1,1.04)" text-anchor="middle">2005</text>
<text transform="translate(1995.9,614.7) scale(1,1.04)" text-anchor="middle">2015</text>
<text transform="translate(1672.2,454.4) rotate(-90) scale(1,1.04)" text-anchor="middle">Fossil resource</text>
<text transform="translate(1704.6,454.4) rotate(-90) scale(1,1.04)" text-anchor="middle">footprint (Mt)</text>
<text transform="translate(2085.9,456.8) rotate(-90) scale(1,1.04)" text-anchor="middle">Fossil resource</text>
<text transform="translate(2118.6,458.2) rotate(-90) scale(1,1.04)" text-anchor="middle">footprint (%)</text>
</g>
<g id="chart-3" font-size="27.1">
<line x1="1783.8" y1="838.1" x2="2028.5" y2="838.1" stroke="#7d7d7d" stroke-width="1"/>
<line x1="1777.8" y1="838.1" x2="1783.8" y2="838.1" stroke="#e2e2e2" stroke-width="1"/>
<line x1="2028.5" y1="838.1" x2="2031.5" y2="838.1" stroke="#e2e2e2" stroke-width="1"/>
<line x1="1783.8" y1="773.7" x2="2028.5" y2="773.7" stroke="#7d7d7d" stroke-width="1"/>
<line x1="1777.8" y1="773.7" x2="1783.8" y2="773.7" stroke="#e2e2e2" stroke-width="1"/>
<line x1="2028.5" y1="773.7" x2="2031.5" y2="773.7" stroke="#e2e2e2" stroke-width="1"/>
<line x1="1783.8" y1="709.3" x2="2028.5" y2="709.3" stroke="#7d7d7d" stroke-width="1"/>
<line x1="1777.8" y1="709.3" x2="1783.8" y2="709.3" stroke="#e2e2e2" stroke-width="1"/>
<line x1="2028.5" y1="709.3" x2="2031.5" y2="709.3" stroke="#e2e2e2" stroke-width="1"/>
<path d="M1783.8,892.6 L1796,892.8 L1808.3,893.2 L1820.5,894 L1832.7,894.6 L1845,895 L1857.2,891.2 L1869.4,891.2 L1881.7,890.8 L1893.9,888.7 L1906.2,888.7 L1918.4,888.7 L1930.6,888.9 L1942.9,890 L1955.1,892 L1967.3,891.6 L1979.6,890 L1991.8,891.2 L2004,891.6 L2016.3,891.2 L2028.5,891.6 L2028.5,902.5 L2016.3,902.5 L2004,902.5 L1991.8,902.5 L1979.6,902.5 L1967.3,902.5 L1955.1,902.5 L1942.9,902.5 L1930.6,902.5 L1918.4,902.5 L1906.2,902.5 L1893.9,902.5 L1881.7,902.5 L1869.4,902.5 L1857.2,902.5 L1845,902.5 L1832.7,902.5 L1820.5,902.5 L1808.3,902.5 L1796,902.5 L1783.8,902.5 Z" fill="#96592c" fill-opacity="0.62"/>
<path d="M1783.8,892 L1796,892.2 L1808.3,892.6 L1820.5,893.2 L1832.7,893.6 L1845,894 L1857.2,890 L1869.4,889.2 L1881.7,888.7 L1893.9,884.7 L1906.2,884.1 L1918.4,883.7 L1930.6,883.7 L1942.9,884.7 L1955.1,886.7 L1967.3,886.7 L1979.6,885.3 L1991.8,886.7 L2004,887.3 L2016.3,886.7 L2028.5,886.7 L2028.5,891.6 L2016.3,891.2 L2004,891.6 L1991.8,891.2 L1979.6,890 L1967.3,891.6 L1955.1,892 L1942.9,890 L1930.6,888.9 L1918.4,888.7 L1906.2,888.7 L1893.9,888.7 L1881.7,890.8 L1869.4,891.2 L1857.2,891.2 L1845,895 L1832.7,894.6 L1820.5,894 L1808.3,893.2 L1796,892.8 L1783.8,892.6 Z" fill="#48d44a" fill-opacity="0.62"/>
<path d="M1783.8,888.7 L1796,888.7 L1808.3,882.7 L1820.5,882.7 L1832.7,882.1 L1845,881.7 L1857.2,877.8 L1869.4,879.4 L1881.7,878.8 L1893.9,874.2 L1906.2,871.8 L1918.4,871.3 L1930.6,871.5 L1942.9,874.2 L1955.1,877.8 L1967.3,878.2 L1979.6,877.4 L1991.8,877.8 L2004,881.3 L2016.3,880.7 L2028.5,880.7 L2028.5,886.7 L2016.3,886.7 L2004,887.3 L1991.8,886.7 L1979.6,885.3 L1967.3,886.7 L1955.1,886.7 L1942.9,884.7 L1930.6,883.7 L1918.4,883.7 L1906.2,884.1 L1893.9,884.7 L1881.7,888.7 L1869.4,889.2 L1857.2,890 L1845,894 L1832.7,893.6 L1820.5,893.2 L1808.3,892.6 L1796,892.2 L1783.8,892 Z" fill="#1effff" fill-opacity="0.62"/>
<path d="M1783.8,874.8 L1796,872.8 L1808.3,865.9 L1820.5,864.3 L1832.7,862.9 L1845,858 L1857.2,854 L1869.4,858.4 L1881.7,856.4 L1893.9,853.1 L1906.2,848.1 L1918.4,845.1 L1930.6,844.2 L1942.9,848.1 L1955.1,857.6 L1967.3,855.6 L1979.6,855 L1991.8,856 L2004,861 L2016.3,860.4 L2028.5,860.4 L2028.5,880.7 L2016.3,880.7 L2004,881.3 L1991.8,877.8 L1979.6,877.4 L1967.3,878.2 L1955.1,877.8 L1942.9,874.2 L1930.6,871.5 L1918.4,871.3 L1906.2,871.8 L1893.9,874.2 L1881.7,878.8 L1869.4,879.4 L1857.2,877.8 L1845,881.7 L1832.7,882.1 L1820.5,882.7 L1808.3,882.7 L1796,888.7 L1783.8,888.7 Z" fill="#3a9bff" fill-opacity="0.62"/>
<path d="M1783.8,873.8 L1796,871.8 L1808.3,864.5 L1820.5,862.9 L1832.7,861.6 L1845,856 L1857.2,851.7 L1869.4,856.4 L1881.7,854.4 L1893.9,851.1 L1906.2,846.1 L1918.4,843.2 L1930.6,841.8 L1942.9,846.1 L1955.1,855 L1967.3,852.5 L1979.6,851.7 L1991.8,852.5 L2004,856.4 L2016.3,856 L2028.5,855.6 L2028.5,860.4 L2016.3,860.4 L2004,861 L1991.8,856 L1979.6,855 L1967.3,855.6 L1955.1,857.6 L1942.9,848.1 L1930.6,844.2 L1918.4,845.1 L1906.2,848.1 L1893.9,853.1 L1881.7,856.4 L1869.4,858.4 L1857.2,854 L1845,858 L1832.7,862.9 L1820.5,864.3 L1808.3,865.9 L1796,872.8 L1783.8,874.8 Z" fill="#ffdb1e" fill-opacity="0.62"/>
<path d="M1783.8,858 L1796,855 L1808.3,847.1 L1820.5,847.1 L1832.7,846.1 L1845,839.2 L1857.2,834.7 L1869.4,841.2 L1881.7,838.6 L1893.9,831.3 L1906.2,826 L1918.4,819.4 L1930.6,818.5 L1942.9,820.8 L1955.1,833.3 L1967.3,827.9 L1979.6,820.8 L1991.8,822.4 L2004,829.3 L2016.3,827.4 L2028.5,827 L2028.5,855.6 L2016.3,856 L2004,856.4 L1991.8,852.5 L1979.6,851.7 L1967.3,852.5 L1955.1,855 L1942.9,846.1 L1930.6,841.8 L1918.4,843.2 L1906.2,846.1 L1893.9,851.1 L1881.7,854.4 L1869.4,856.4 L1857.2,851.7 L1845,856 L1832.7,861.6 L1820.5,862.9 L1808.3,864.5 L1796,871.8 L1783.8,873.8 Z" fill="#c09326" fill-opacity="0.62"/>
<path d="M1783.8,857 L1796,853.7 L1808.3,843.2 L1820.5,843.8 L1832.7,842.6 L1845,833.3 L1857.2,828.3 L1869.4,835.3 L1881.7,834.7 L1893.9,822 L1906.2,814.1 L1918.4,804.6 L1930.6,804.2 L1942.9,807.6 L1955.1,818.5 L1967.3,812.1 L1979.6,803 L1991.8,802.2 L2004,807.6 L2016.3,805.6 L2028.5,803.6 L2028.5,827 L2016.3,827.4 L2004,829.3 L1991.8,822.4 L1979.6,820.8 L1967.3,827.9 L1955.1,833.3 L1942.9,820.8 L1930.6,818.5 L1918.4,819.4 L1906.2,826 L1893.9,831.3 L1881.7,838.6 L1869.4,841.2 L1857.2,834.7 L1845,839.2 L1832.7,846.1 L1820.5,847.1 L1808.3,847.1 L1796,855 L1783.8,858 Z" fill="#9540e4" fill-opacity="0.62"/>
<path d="M1783.8,823.4 L1796,817.5 L1808.3,806.2 L1820.5,805.6 L1832.7,803 L1845,793.1 L1857.2,786.8 L1869.4,790 L1881.7,784.4 L1893.9,763.1 L1906.2,740.3 L1918.4,717.6 L1930.6,710.7 L1942.9,714 L1955.1,714 L1967.3,699.8 L1979.6,682 L1991.8,673.7 L2004,673.7 L2016.3,673.1 L2028.5,670.1 L2028.5,803.6 L2016.3,805.6 L2004,807.6 L1991.8,802.2 L1979.6,803 L1967.3,812.1 L1955.1,818.5 L1942.9,807.6 L1930.6,804.2 L1918.4,804.6 L1906.2,814.1 L1893.9,822 L1881.7,834.7 L1869.4,835.3 L1857.2,828.3 L1845,833.3 L1832.7,842.6 L1820.5,843.8 L1808.3,843.2 L1796,853.7 L1783.8,857 Z" fill="#ff2a9d" fill-opacity="0.62"/>
<path d="M1783.8,892.6 L1796,892.8 L1808.3,893.2 L1820.5,894 L1832.7,894.6 L1845,895 L1857.2,891.2 L1869.4,891.2 L1881.7,890.8 L1893.9,888.7 L1906.2,888.7 L1918.4,888.7 L1930.6,888.9 L1942.9,890 L1955.1,892 L1967.3,891.6 L1979.6,890 L1991.8,891.2 L2004,891.6 L2016.3,891.2 L2028.5,891.6" fill="none" stroke="#96592c" stroke-opacity="0.55" stroke-width="1.2" stroke-linejoin="round"/>
<path d="M1783.8,892 L1796,892.2 L1808.3,892.6 L1820.5,893.2 L1832.7,893.6 L1845,894 L1857.2,890 L1869.4,889.2 L1881.7,888.7 L1893.9,884.7 L1906.2,884.1 L1918.4,883.7 L1930.6,883.7 L1942.9,884.7 L1955.1,886.7 L1967.3,886.7 L1979.6,885.3 L1991.8,886.7 L2004,887.3 L2016.3,886.7 L2028.5,886.7" fill="none" stroke="#48d44a" stroke-opacity="0.55" stroke-width="1.2" stroke-linejoin="round"/>
<path d="M1783.8,888.7 L1796,888.7 L1808.3,882.7 L1820.5,882.7 L1832.7,882.1 L1845,881.7 L1857.2,877.8 L1869.4,879.4 L1881.7,878.8 L1893.9,874.2 L1906.2,871.8 L1918.4,871.3 L1930.6,871.5 L1942.9,874.2 L1955.1,877.8 L1967.3,878.2 L1979.6,877.4 L1991.8,877.8 L2004,881.3 L2016.3,880.7 L2028.5,880.7" fill="none" stroke="#1effff" stroke-opacity="0.55" stroke-width="1.2" stroke-linejoin="round"/>
<path d="M1783.8,874.8 L1796,872.8 L1808.3,865.9 L1820.5,864.3 L1832.7,862.9 L1845,858 L1857.2,854 L1869.4,858.4 L1881.7,856.4 L1893.9,853.1 L1906.2,848.1 L1918.4,845.1 L1930.6,844.2 L1942.9,848.1 L1955.1,857.6 L1967.3,855.6 L1979.6,855 L1991.8,856 L2004,861 L2016.3,860.4 L2028.5,860.4" fill="none" stroke="#3a9bff" stroke-opacity="0.55" stroke-width="1.2" stroke-linejoin="round"/>
<path d="M1783.8,873.8 L1796,871.8 L1808.3,864.5 L1820.5,862.9 L1832.7,861.6 L1845,856 L1857.2,851.7 L1869.4,856.4 L1881.7,854.4 L1893.9,851.1 L1906.2,846.1 L1918.4,843.2 L1930.6,841.8 L1942.9,846.1 L1955.1,855 L1967.3,852.5 L1979.6,851.7 L1991.8,852.5 L2004,856.4 L2016.3,856 L2028.5,855.6" fill="none" stroke="#ffdb1e" stroke-opacity="0.55" stroke-width="1.2" stroke-linejoin="round"/>
<path d="M1783.8,858 L1796,855 L1808.3,847.1 L1820.5,847.1 L1832.7,846.1 L1845,839.2 L1857.2,834.7 L1869.4,841.2 L1881.7,838.6 L1893.9,831.3 L1906.2,826 L1918.4,819.4 L1930.6,818.5 L1942.9,820.8 L1955.1,833.3 L1967.3,827.9 L1979.6,820.8 L1991.8,822.4 L2004,829.3 L2016.3,827.4 L2028.5,827" fill="none" stroke="#c09326" stroke-opacity="0.55" stroke-width="1.2" stroke-linejoin="round"/>
<path d="M1783.8,857 L1796,853.7 L1808.3,843.2 L1820.5,843.8 L1832.7,842.6 L1845,833.3 L1857.2,828.3 L1869.4,835.3 L1881.7,834.7 L1893.9,822 L1906.2,814.1 L1918.4,804.6 L1930.6,804.2 L1942.9,807.6 L1955.1,818.5 L1967.3,812.1 L1979.6,803 L1991.8,802.2 L2004,807.6 L2016.3,805.6 L2028.5,803.6" fill="none" stroke="#9540e4" stroke-opacity="0.55" stroke-width="1.2" stroke-linejoin="round"/>
<path d="M1783.8,823.4 L1796,817.5 L1808.3,806.2 L1820.5,805.6 L1832.7,803 L1845,793.1 L1857.2,786.8 L1869.4,790 L1881.7,784.4 L1893.9,763.1 L1906.2,740.3 L1918.4,717.6 L1930.6,710.7 L1942.9,714 L1955.1,714 L1967.3,699.8 L1979.6,682 L1991.8,673.7 L2004,673.7 L2016.3,673.1 L2028.5,670.1" fill="none" stroke="#ff2a9d" stroke-opacity="0.55" stroke-width="1.2" stroke-linejoin="round"/>
<path d="M1783.8,653 V905.5 M2028.5,653 V905.5 M1777.8,902.5 H2031.5" fill="none" stroke="#cfcfcf" stroke-width="1.6"/>
<line x1="1906.2" y1="902.5" x2="1906.2" y2="906.5" stroke="#dcdcdc" stroke-width="1.2"/>
<path d="M1783.8,775.9 L1796,770.6 L1808.3,753.6 L1820.5,753.6 L1832.7,749.2 L1845,738.4 L1857.2,733 L1869.4,739.7 L1881.7,738.4 L1893.9,717.6 L1906.2,696.8 L1918.4,676.1 L1930.6,672.5 L1942.9,682 L1955.1,680.4 L1967.3,675.1 L1979.6,662.6 L1991.8,659.3 L2004,665.8 L2016.3,663.6 L2028.5,664.2" fill="none" stroke="#dc4351" stroke-width="3.5" stroke-linejoin="round" stroke-linecap="butt"/>
<text transform="translate(1769.2,912.1) scale(1,1.04)" text-anchor="end">0</text>
<text transform="translate(2038.6,912.1) scale(1,1.04)">0</text>
<text transform="translate(1769.2,847.7) scale(1,1.04)" text-anchor="end">150</text>
<text transform="translate(2038.6,847.7) scale(1,1.04)">1</text>
<text transform="translate(1769.2,783.3) scale(1,1.04)" text-anchor="end">300</text>
<text transform="translate(2038.6,783.3) scale(1,1.04)">2</text>
<text transform="translate(1769.2,718.9) scale(1,1.04)" text-anchor="end">450</text>
<text transform="translate(2038.6,718.9) scale(1,1.04)">3</text>
<text transform="translate(1808.9,938.6) scale(1,1.04)" text-anchor="middle">1995</text>
<text transform="translate(1902.3,938.6) scale(1,1.04)" text-anchor="middle">2005</text>
<text transform="translate(1995.9,938.6) scale(1,1.04)" text-anchor="middle">2015</text>
<text transform="translate(1672.2,778.3) rotate(-90) scale(1,1.04)" text-anchor="middle">Fossil resource</text>
<text transform="translate(1704.6,778.3) rotate(-90) scale(1,1.04)" text-anchor="middle">footprint (Mt)</text>
<text transform="translate(2085.9,780.7) rotate(-90) scale(1,1.04)" text-anchor="middle">Fossil resource</text>
<text transform="translate(2118.6,782.1) rotate(-90) scale(1,1.04)" text-anchor="middle">footprint (%)</text>
</g>
<g id="chart-4" font-size="27.1">
<line x1="1781.9" y1="1169" x2="2025.9" y2="1169" stroke="#7d7d7d" stroke-width="1"/>
<line x1="1775.9" y1="1169" x2="1781.9" y2="1169" stroke="#e2e2e2" stroke-width="1"/>
<line x1="2025.9" y1="1169" x2="2028.9" y2="1169" stroke="#e2e2e2" stroke-width="1"/>
<line x1="1781.9" y1="1104.6" x2="2025.9" y2="1104.6" stroke="#7d7d7d" stroke-width="1"/>
<line x1="1775.9" y1="1104.6" x2="1781.9" y2="1104.6" stroke="#e2e2e2" stroke-width="1"/>
<line x1="2025.9" y1="1104.6" x2="2028.9" y2="1104.6" stroke="#e2e2e2" stroke-width="1"/>
<line x1="1781.9" y1="1040.2" x2="2025.9" y2="1040.2" stroke="#7d7d7d" stroke-width="1"/>
<line x1="1775.9" y1="1040.2" x2="1781.9" y2="1040.2" stroke="#e2e2e2" stroke-width="1"/>
<line x1="2025.9" y1="1040.2" x2="2028.9" y2="1040.2" stroke="#e2e2e2" stroke-width="1"/>
<path d="M1781.9,1223.5 L1794.1,1223.1 L1806.3,1221.9 L1818.5,1222.5 L1830.7,1223.1 L1842.9,1223.1 L1855.1,1221.1 L1867.3,1220.5 L1879.5,1220 L1891.7,1216.6 L1903.9,1214 L1916.1,1211.6 L1928.3,1209.7 L1940.5,1209.3 L1952.7,1211.6 L1964.9,1208.7 L1977.1,1205.7 L1989.3,1204.7 L2001.5,1204.7 L2013.7,1205.7 L2025.9,1208.7 L2025.9,1233.4 L2013.7,1233.4 L2001.5,1233.4 L1989.3,1233.4 L1977.1,1233.4 L1964.9,1233.4 L1952.7,1233.4 L1940.5,1233.4 L1928.3,1233.4 L1916.1,1233.4 L1903.9,1233.4 L1891.7,1233.4 L1879.5,1233.4 L1867.3,1233.4 L1855.1,1233.4 L1842.9,1233.4 L1830.7,1233.4 L1818.5,1233.4 L1806.3,1233.4 L1794.1,1233.4 L1781.9,1233.4 Z" fill="#96592c" fill-opacity="0.62"/>
<path d="M1781.9,1223.1 L1794.1,1222.7 L1806.3,1221.5 L1818.5,1221.9 L1830.7,1222.5 L1842.9,1222.3 L1855.1,1220 L1867.3,1219.6 L1879.5,1218.6 L1891.7,1214.6 L1903.9,1212 L1916.1,1209.3 L1928.3,1207.3 L1940.5,1206.7 L1952.7,1208.7 L1964.9,1206.1 L1977.1,1203.3 L1989.3,1202.2 L2001.5,1202.2 L2013.7,1203.3 L2025.9,1206.7 L2025.9,1208.7 L2013.7,1205.7 L2001.5,1204.7 L1989.3,1204.7 L1977.1,1205.7 L1964.9,1208.7 L1952.7,1211.6 L1940.5,1209.3 L1928.3,1209.7 L1916.1,1211.6 L1903.9,1214 L1891.7,1216.6 L1879.5,1220 L1867.3,1220.5 L1855.1,1221.1 L1842.9,1223.1 L1830.7,1223.1 L1818.5,1222.5 L1806.3,1221.9 L1794.1,1223.1 L1781.9,1223.5 Z" fill="#48d44a" fill-opacity="0.62"/>
<path d="M1781.9,1213.6 L1794.1,1213.2 L1806.3,1205.7 L1818.5,1204.1 L1830.7,1202.7 L1842.9,1200.2 L1855.1,1197.4 L1867.3,1198.2 L1879.5,1196.8 L1891.7,1187.9 L1903.9,1181 L1916.1,1175.1 L1928.3,1173.7 L1940.5,1178 L1952.7,1184.4 L1964.9,1180.4 L1977.1,1176 L1989.3,1174.5 L2001.5,1176 L2013.7,1177 L2025.9,1180 L2025.9,1206.7 L2013.7,1203.3 L2001.5,1202.2 L1989.3,1202.2 L1977.1,1203.3 L1964.9,1206.1 L1952.7,1208.7 L1940.5,1206.7 L1928.3,1207.3 L1916.1,1209.3 L1903.9,1212 L1891.7,1214.6 L1879.5,1218.6 L1867.3,1219.6 L1855.1,1220 L1842.9,1222.3 L1830.7,1222.5 L1818.5,1221.9 L1806.3,1221.5 L1794.1,1222.7 L1781.9,1223.1 Z" fill="#1effff" fill-opacity="0.62"/>
<path d="M1781.9,1197.8 L1794.1,1194.8 L1806.3,1186.3 L1818.5,1182 L1830.7,1180 L1842.9,1174.1 L1855.1,1168.5 L1867.3,1172.5 L1879.5,1168.1 L1891.7,1158.3 L1903.9,1148 L1916.1,1138.1 L1928.3,1135.5 L1940.5,1143.4 L1952.7,1154.7 L1964.9,1148.4 L1977.1,1144.4 L1989.3,1144 L2001.5,1147.4 L2013.7,1148.4 L2025.9,1150.7 L2025.9,1180 L2013.7,1177 L2001.5,1176 L1989.3,1174.5 L1977.1,1176 L1964.9,1180.4 L1952.7,1184.4 L1940.5,1178 L1928.3,1173.7 L1916.1,1175.1 L1903.9,1181 L1891.7,1187.9 L1879.5,1196.8 L1867.3,1198.2 L1855.1,1197.4 L1842.9,1200.2 L1830.7,1202.7 L1818.5,1204.1 L1806.3,1205.7 L1794.1,1213.2 L1781.9,1213.6 Z" fill="#3a9bff" fill-opacity="0.62"/>
<path d="M1781.9,1196.2 L1794.1,1193.5 L1806.3,1184.9 L1818.5,1180 L1830.7,1177.6 L1842.9,1171.7 L1855.1,1165.8 L1867.3,1170.1 L1879.5,1165.2 L1891.7,1154.7 L1903.9,1143.4 L1916.1,1131.6 L1928.3,1128.2 L1940.5,1136.5 L1952.7,1148 L1964.9,1140.8 L1977.1,1134.9 L1989.3,1133.5 L2001.5,1137.5 L2013.7,1138.1 L2025.9,1140.1 L2025.9,1150.7 L2013.7,1148.4 L2001.5,1147.4 L1989.3,1144 L1977.1,1144.4 L1964.9,1148.4 L1952.7,1154.7 L1940.5,1143.4 L1928.3,1135.5 L1916.1,1138.1 L1903.9,1148 L1891.7,1158.3 L1879.5,1168.1 L1867.3,1172.5 L1855.1,1168.5 L1842.9,1174.1 L1830.7,1180 L1818.5,1182 L1806.3,1186.3 L1794.1,1194.8 L1781.9,1197.8 Z" fill="#ffdb1e" fill-opacity="0.62"/>
<path d="M1781.9,1176.4 L1794.1,1173.1 L1806.3,1162.6 L1818.5,1161.8 L1830.7,1160.6 L1842.9,1151.3 L1855.1,1147.4 L1867.3,1151.9 L1879.5,1147.4 L1891.7,1132.1 L1903.9,1116.7 L1916.1,1101.9 L1928.3,1099.9 L1940.5,1106.8 L1952.7,1121.7 L1964.9,1109.8 L1977.1,1098.9 L1989.3,1097.9 L2001.5,1102.5 L2013.7,1102.9 L2025.9,1105.3 L2025.9,1140.1 L2013.7,1138.1 L2001.5,1137.5 L1989.3,1133.5 L1977.1,1134.9 L1964.9,1140.8 L1952.7,1148 L1940.5,1136.5 L1928.3,1128.2 L1916.1,1131.6 L1903.9,1143.4 L1891.7,1154.7 L1879.5,1165.2 L1867.3,1170.1 L1855.1,1165.8 L1842.9,1171.7 L1830.7,1177.6 L1818.5,1180 L1806.3,1184.9 L1794.1,1193.5 L1781.9,1196.2 Z" fill="#c09326" fill-opacity="0.62"/>
<path d="M1781.9,1175.7 L1794.1,1172.1 L1806.3,1160.6 L1818.5,1159.8 L1830.7,1158.6 L1842.9,1149.4 L1855.1,1145.4 L1867.3,1148.4 L1879.5,1144.8 L1891.7,1129 L1903.9,1110.8 L1916.1,1094 L1928.3,1092.6 L1940.5,1099.9 L1952.7,1111.8 L1964.9,1098.5 L1977.1,1086.1 L1989.3,1082.7 L2001.5,1086.1 L2013.7,1086.7 L2025.9,1088 L2025.9,1105.3 L2013.7,1102.9 L2001.5,1102.5 L1989.3,1097.9 L1977.1,1098.9 L1964.9,1109.8 L1952.7,1121.7 L1940.5,1106.8 L1928.3,1099.9 L1916.1,1101.9 L1903.9,1116.7 L1891.7,1132.1 L1879.5,1147.4 L1867.3,1151.9 L1855.1,1147.4 L1842.9,1151.3 L1830.7,1160.6 L1818.5,1161.8 L1806.3,1162.6 L1794.1,1173.1 L1781.9,1176.4 Z" fill="#9540e4" fill-opacity="0.62"/>
<path d="M1781.9,1154.3 L1794.1,1148.4 L1806.3,1137.1 L1818.5,1136.5 L1830.7,1133.9 L1842.9,1124 L1855.1,1117.7 L1867.3,1120.9 L1879.5,1115.3 L1891.7,1094 L1903.9,1071.2 L1916.1,1048.5 L1928.3,1041.6 L1940.5,1044.9 L1952.7,1044.9 L1964.9,1030.7 L1977.1,1012.9 L1989.3,1004.6 L2001.5,1004.6 L2013.7,1004 L2025.9,1001 L2025.9,1088 L2013.7,1086.7 L2001.5,1086.1 L1989.3,1082.7 L1977.1,1086.1 L1964.9,1098.5 L1952.7,1111.8 L1940.5,1099.9 L1928.3,1092.6 L1916.1,1094 L1903.9,1110.8 L1891.7,1129 L1879.5,1144.8 L1867.3,1148.4 L1855.1,1145.4 L1842.9,1149.4 L1830.7,1158.6 L1818.5,1159.8 L1806.3,1160.6 L1794.1,1172.1 L1781.9,1175.7 Z" fill="#ff2a9d" fill-opacity="0.62"/>
<path d="M1781.9,1223.5 L1794.1,1223.1 L1806.3,1221.9 L1818.5,1222.5 L1830.7,1223.1 L1842.9,1223.1 L1855.1,1221.1 L1867.3,1220.5 L1879.5,1220 L1891.7,1216.6 L1903.9,1214 L1916.1,1211.6 L1928.3,1209.7 L1940.5,1209.3 L1952.7,1211.6 L1964.9,1208.7 L1977.1,1205.7 L1989.3,1204.7 L2001.5,1204.7 L2013.7,1205.7 L2025.9,1208.7" fill="none" stroke="#96592c" stroke-opacity="0.55" stroke-width="1.2" stroke-linejoin="round"/>
<path d="M1781.9,1223.1 L1794.1,1222.7 L1806.3,1221.5 L1818.5,1221.9 L1830.7,1222.5 L1842.9,1222.3 L1855.1,1220 L1867.3,1219.6 L1879.5,1218.6 L1891.7,1214.6 L1903.9,1212 L1916.1,1209.3 L1928.3,1207.3 L1940.5,1206.7 L1952.7,1208.7 L1964.9,1206.1 L1977.1,1203.3 L1989.3,1202.2 L2001.5,1202.2 L2013.7,1203.3 L2025.9,1206.7" fill="none" stroke="#48d44a" stroke-opacity="0.55" stroke-width="1.2" stroke-linejoin="round"/>
<path d="M1781.9,1213.6 L1794.1,1213.2 L1806.3,1205.7 L1818.5,1204.1 L1830.7,1202.7 L1842.9,1200.2 L1855.1,1197.4 L1867.3,1198.2 L1879.5,1196.8 L1891.7,1187.9 L1903.9,1181 L1916.1,1175.1 L1928.3,1173.7 L1940.5,1178 L1952.7,1184.4 L1964.9,1180.4 L1977.1,1176 L1989.3,1174.5 L2001.5,1176 L2013.7,1177 L2025.9,1180" fill="none" stroke="#1effff" stroke-opacity="0.55" stroke-width="1.2" stroke-linejoin="round"/>
<path d="M1781.9,1197.8 L1794.1,1194.8 L1806.3,1186.3 L1818.5,1182 L1830.7,1180 L1842.9,1174.1 L1855.1,1168.5 L1867.3,1172.5 L1879.5,1168.1 L1891.7,1158.3 L1903.9,1148 L1916.1,1138.1 L1928.3,1135.5 L1940.5,1143.4 L1952.7,1154.7 L1964.9,1148.4 L1977.1,1144.4 L1989.3,1144 L2001.5,1147.4 L2013.7,1148.4 L2025.9,1150.7" fill="none" stroke="#3a9bff" stroke-opacity="0.55" stroke-width="1.2" stroke-linejoin="round"/>
<path d="M1781.9,1196.2 L1794.1,1193.5 L1806.3,1184.9 L1818.5,1180 L1830.7,1177.6 L1842.9,1171.7 L1855.1,1165.8 L1867.3,1170.1 L1879.5,1165.2 L1891.7,1154.7 L1903.9,1143.4 L1916.1,1131.6 L1928.3,1128.2 L1940.5,1136.5 L1952.7,1148 L1964.9,1140.8 L1977.1,1134.9 L1989.3,1133.5 L2001.5,1137.5 L2013.7,1138.1 L2025.9,1140.1" fill="none" stroke="#ffdb1e" stroke-opacity="0.55" stroke-width="1.2" stroke-linejoin="round"/>
<path d="M1781.9,1176.4 L1794.1,1173.1 L1806.3,1162.6 L1818.5,1161.8 L1830.7,1160.6 L1842.9,1151.3 L1855.1,1147.4 L1867.3,1151.9 L1879.5,1147.4 L1891.7,1132.1 L1903.9,1116.7 L1916.1,1101.9 L1928.3,1099.9 L1940.5,1106.8 L1952.7,1121.7 L1964.9,1109.8 L1977.1,1098.9 L1989.3,1097.9 L2001.5,1102.5 L2013.7,1102.9 L2025.9,1105.3" fill="none" stroke="#c09326" stroke-opacity="0.55" stroke-width="1.2" stroke-linejoin="round"/>
<path d="M1781.9,1175.7 L1794.1,1172.1 L1806.3,1160.6 L1818.5,1159.8 L1830.7,1158.6 L1842.9,1149.4 L1855.1,1145.4 L1867.3,1148.4 L1879.5,1144.8 L1891.7,1129 L1903.9,1110.8 L1916.1,1094 L1928.3,1092.6 L1940.5,1099.9 L1952.7,1111.8 L1964.9,1098.5 L1977.1,1086.1 L1989.3,1082.7 L2001.5,1086.1 L2013.7,1086.7 L2025.9,1088" fill="none" stroke="#9540e4" stroke-opacity="0.55" stroke-width="1.2" stroke-linejoin="round"/>
<path d="M1781.9,1154.3 L1794.1,1148.4 L1806.3,1137.1 L1818.5,1136.5 L1830.7,1133.9 L1842.9,1124 L1855.1,1117.7 L1867.3,1120.9 L1879.5,1115.3 L1891.7,1094 L1903.9,1071.2 L1916.1,1048.5 L1928.3,1041.6 L1940.5,1044.9 L1952.7,1044.9 L1964.9,1030.7 L1977.1,1012.9 L1989.3,1004.6 L2001.5,1004.6 L2013.7,1004 L2025.9,1001" fill="none" stroke="#ff2a9d" stroke-opacity="0.55" stroke-width="1.2" stroke-linejoin="round"/>
<path d="M1781.9,983.9 V1236.4 M2025.9,983.9 V1236.4 M1775.9,1233.4 H2028.9" fill="none" stroke="#cfcfcf" stroke-width="1.6"/>
<line x1="1903.9" y1="1233.4" x2="1903.9" y2="1237.4" stroke="#dcdcdc" stroke-width="1.2"/>
<path d="M1781.9,1106.8 L1794.1,1101.5 L1806.3,1084.5 L1818.5,1084.5 L1830.7,1080.1 L1842.9,1069.3 L1855.1,1063.9 L1867.3,1070.6 L1879.5,1069.3 L1891.7,1048.5 L1903.9,1027.7 L1916.1,1007 L1928.3,1003.4 L1940.5,1012.9 L1952.7,1011.3 L1964.9,1006 L1977.1,993.5 L1989.3,990.2 L2001.5,996.7 L2013.7,994.5 L2025.9,995.1" fill="none" stroke="#dc4351" stroke-width="3.5" stroke-linejoin="round" stroke-linecap="butt"/>
<text transform="translate(1769.2,1243) scale(1,1.04)" text-anchor="end">0</text>
<text transform="translate(2038.6,1243) scale(1,1.04)">0</text>
<text transform="translate(1769.2,1178.6) scale(1,1.04)" text-anchor="end">150</text>
<text transform="translate(2038.6,1178.6) scale(1,1.04)">1</text>
<text transform="translate(1769.2,1114.2) scale(1,1.04)" text-anchor="end">300</text>
<text transform="translate(2038.6,1114.2) scale(1,1.04)">2</text>
<text transform="translate(1769.2,1049.8) scale(1,1.04)" text-anchor="end">450</text>
<text transform="translate(2038.6,1049.8) scale(1,1.04)">3</text>
<text transform="translate(1808.9,1269.5) scale(1,1.04)" text-anchor="middle">1995</text>
<text transform="translate(1902.3,1269.5) scale(1,1.04)" text-anchor="middle">2005</text>
<text transform="translate(1995.9,1269.5) scale(1,1.04)" text-anchor="middle">2015</text>
<text transform="translate(1672.2,1109.2) rotate(-90) scale(1,1.04)" text-anchor="middle">Fossil resource</text>
<text transform="translate(1704.6,1109.2) rotate(-90) scale(1,1.04)" text-anchor="middle">footprint (Mt)</text>
<text transform="translate(2085.9,1111.6) rotate(-90) scale(1,1.04)" text-anchor="middle">Fossil resource</text>
<text transform="translate(2118.6,1113) rotate(-90) scale(1,1.04)" text-anchor="middle">footprint (%)</text>
<text transform="translate(1902.2,1308) scale(1,1.04)" text-anchor="middle">Year</text>
</g>
</svg></body></html>
